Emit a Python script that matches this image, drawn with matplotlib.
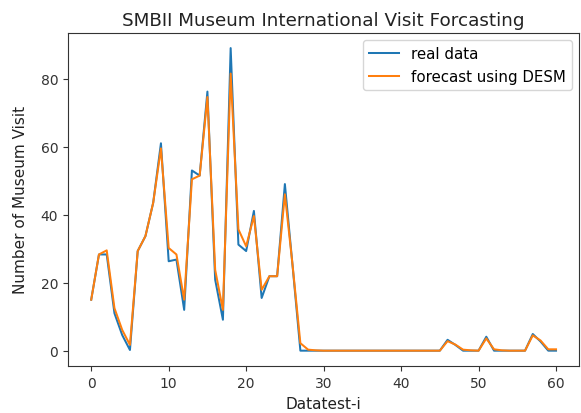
import numpy as np
import matplotlib
matplotlib.use("Agg")
import matplotlib.pyplot as plt

# values, index 0..60
real_data = [15, 28.3, 28.3, 11, 4.6, 0.2, 29.3, 33.7, 43.5, 61,
             26.3, 26.8, 12, 53, 51.5, 76.2, 20.9, 9.1, 89, 31.2,
             29.3, 41.1, 15.5, 21.9, 21.9, 49, 24.8, 0, 0, 0,
             0, 0, 0, 0, 0, 0, 0, 0, 0, 0,
             0, 0, 0, 0, 0, 0, 3.2, 1.7, 0, 0,
             0, 4.1, 0, 0, 0, 0, 0, 4.9, 2.7, 0,
             0]
forecast = [15, 28.3, 29.5, 12.5, 6.1, 1.7, 29.3, 33.7, 43.5, 59.5,
            30.2, 28.3, 15, 50.4, 51.5, 74.6, 23.8, 12, 81.5, 35.7,
            30.7, 39.6, 17.9, 21.9, 21.9, 46, 25, 2.2, 0.3, 0.1,
            0, 0, 0, 0, 0, 0, 0, 0, 0, 0,
            0, 0, 0, 0, 0, 0, 2.8, 1.8, 0.3, 0.1,
            0, 3.6, 0.4, 0.1, 0, 0, 0, 4.5, 3.0, 0.4,
            0.4]

fig = plt.figure(figsize=(5.81, 4.14), dpi=100)
ax = fig.add_axes([0.117, 0.114, 0.88, 0.804])
x = np.arange(len(real_data))
ax.plot(x, real_data, color="#1f77b4", lw=1.45, label="real data")
ax.plot(x, forecast, color="#ff7f0e", lw=1.45, label="forecast using DESM")

ax.set_xticks([0, 10, 20, 30, 40, 50, 60])
ax.set_yticks([0, 20, 40, 60, 80])
ax.tick_params(labelsize=10, colors="#333333", labelcolor="#333333")
for s in ax.spines.values():
    s.set_color("#333333")

ax.set_title("SMBII Museum International Visit Forcasting", fontsize=13.2, color="#222222")
ax.set_xlabel("Datatest-i", fontsize=11, color="#222222", labelpad=5)
ax.set_ylabel("Number of Museum Visit", fontsize=11, color="#222222", labelpad=9)
ax.legend(loc="upper right", fontsize=10.8)

fig.savefig("out.png", dpi=100)
